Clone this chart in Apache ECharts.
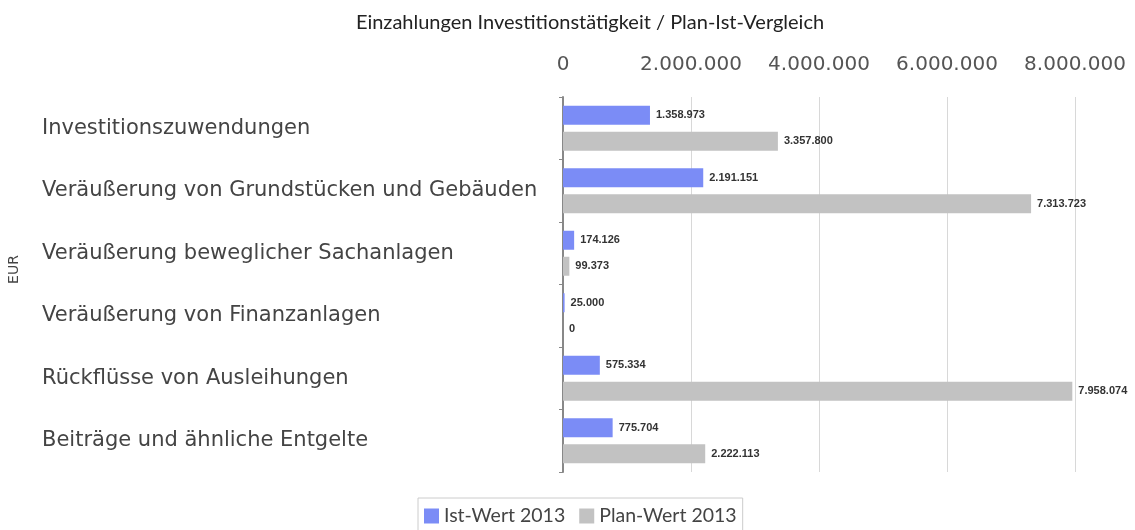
<!DOCTYPE html>
<html><head><meta charset="utf-8">
<script src="https://cdn.jsdelivr.net/npm/echarts@6/dist/echarts.min.js"></script>
<style>html,body{margin:0;padding:0;background:#fff}#c{width:1135px;height:530px}</style>
</head><body><div id="c"></div>
<script>
const categories = ["Investitionszuwendungen","Veräußerung von Grundstücken und Gebäuden","Veräußerung beweglicher Sachanlagen","Veräußerung von Finanzanlagen","Rückflüsse von Ausleihungen","Beiträge und ähnliche Entgelte"];
const istWert = [1358973, 2191151, 174126, 25000, 575334, 775704];
const planWert = [3357800, 7313723, 99373, 0, 7958074, 2222113];
const seriesNames = ["Ist-Wert 2013", "Plan-Wert 2013"];
const fmt = v => String(Math.round(v)).replace(/\B(?=(\d{3})+(?!\d))/g, ".");
const chart = echarts.init(document.getElementById('c'));
chart.setOption({
  animation: false,
  title: { text: "Einzahlungen Investitionstätigkeit / Plan-Ist-Vergleich", left: 585, textAlign: 'center', top: 8,
    textStyle: { fontFamily: 'Lato', fontSize: 20, fontWeight: 'normal', color: '#222' } },
  legend: { data: seriesNames, bottom: -8, left: 418, itemWidth: 15, itemHeight: 15, itemGap: 14,
    borderColor: '#ccc', borderWidth: 1, padding: [8, 6, 12, 6],
    textStyle: { fontFamily: 'Lato', fontSize: 19.5, color: '#444' }, icon: 'rect' },
  grid: { left: 563, right: 60, top: 97, bottom: 58 },
  xAxis: { type: 'value', position: 'top', min: 0, max: 8000000, interval: 2000000,
    axisLabel: { formatter: fmt, fontFamily: 'DejaVu Sans', fontSize: 20, color: '#555', margin: 22 },
    axisLine: { show: false }, axisTick: { show: false },
    splitLine: { lineStyle: { color: '#d8d8d8', width: 1 } } },
  yAxis: { type: 'category', data: categories, inverse: true,
    name: 'EUR', nameLocation: 'middle', nameGap: 542, nameRotate: 90,
    nameTextStyle: { fontFamily: 'DejaVu Sans', fontSize: 14, color: '#444', padding: [0, 0, 0, 30] },
    axisLine: { lineStyle: { color: '#888', width: 2 } },
    axisTick: { show: true, length: 4, lineStyle: { color: '#888' } },
    axisLabel: { align: 'left', margin: 521, fontFamily: 'DejaVu Sans', fontSize: 21, color: '#444' } },
  series: [
    { name: seriesNames[0], type: 'bar', data: istWert, itemStyle: { color: '#7b8cf6' },
      barCategoryGap: '28%', barGap: '37%',
      label: { show: true, position: 'right', distance: 6, formatter: p => fmt(p.value),
        fontFamily: 'Liberation Sans', fontSize: 11, fontWeight: 'bold', color: '#333' } },
    { name: seriesNames[1], type: 'bar', data: planWert, itemStyle: { color: '#c2c2c2' },
      barCategoryGap: '28%', barGap: '37%',
      label: { show: true, position: 'right', distance: 6, formatter: p => fmt(p.value),
        fontFamily: 'Liberation Sans', fontSize: 11, fontWeight: 'bold', color: '#333' } }
  ]
});
</script></body></html>
